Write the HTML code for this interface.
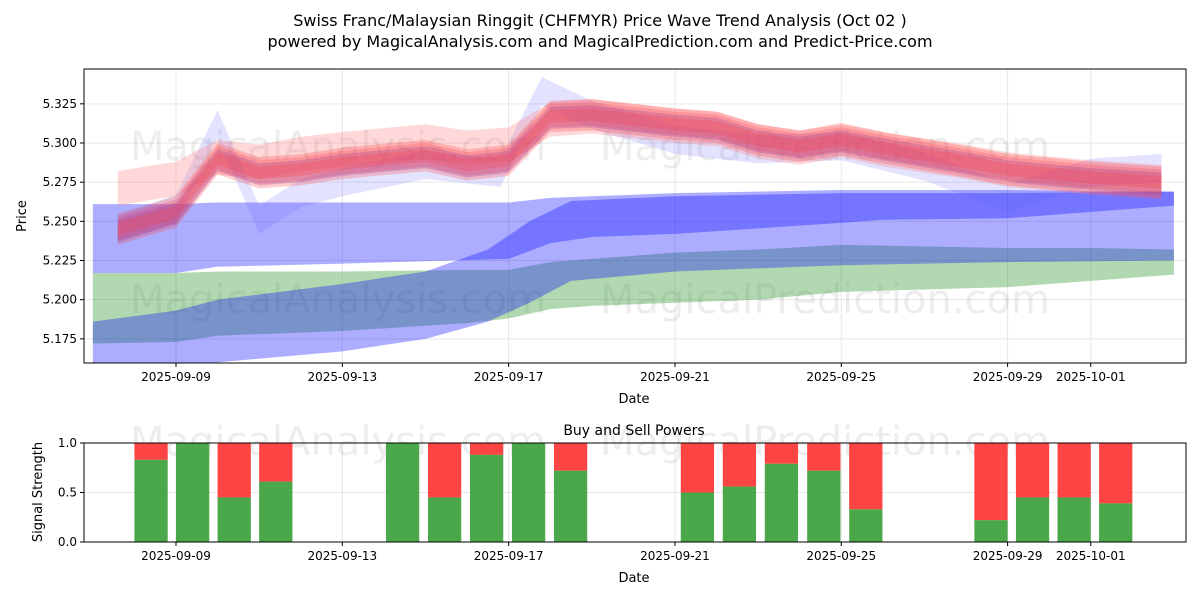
<!DOCTYPE html>
<html><head><meta charset="utf-8"><style>
body{margin:0;background:#fff;font-family:"Liberation Sans","DejaVu Sans",sans-serif}
svg text{font-family:"DejaVu Sans","Liberation Sans",sans-serif}
</style></head><body>
<svg id="c" width="1200" height="600" xmlns="http://www.w3.org/2000/svg">
<rect width="1200" height="600" fill="#fff"/>
<text x="600" y="26" text-anchor="middle" font-size="16">Swiss Franc/Malaysian Ringgit (CHFMYR) Price Wave Trend Analysis (Oct 02 )</text>
<text x="600" y="47" text-anchor="middle" font-size="16">powered by MagicalAnalysis.com and MagicalPrediction.com and Predict-Price.com</text>
<g id="topg"></g><g id="botg"></g>
</svg>
<script>
// dates as day-of-September (Oct 1 = 31)
const tickDays=[9,13,17,21,25,29,31];
const tickLabels=["2025-09-09","2025-09-13","2025-09-17","2025-09-21","2025-09-25","2025-09-29","2025-10-01"];
const yTicks=[5.175,5.2,5.225,5.25,5.275,5.3,5.325];
// band A (light blue)
const aDays=[7,9,10,13,17,18,19,21,25,26,29,33];
const aTop=[5.261,5.261,5.262,5.262,5.262,5.265,5.266,5.268,5.270,5.270,5.270,5.269];
const aBot=[5.217,5.217,5.221,5.223,5.226,5.236,5.240,5.242,5.249,5.251,5.252,5.260];
// band B (blue, lower)
const bDays=[7,9,10,13,15,16.5,17.5,18.5,21,25,29,33];
const bTop=[5.186,5.193,5.200,5.210,5.218,5.232,5.250,5.263,5.266,5.268,5.268,5.269];
const bBot=[5.158,5.156,5.160,5.167,5.175,5.186,5.198,5.212,5.218,5.222,5.224,5.225];
// band C (green)
const cDays=[7,9,10,13,16,17,18,19,21,23,25,29,31,33];
const cTop=[5.217,5.217,5.218,5.218,5.219,5.219,5.224,5.226,5.230,5.232,5.235,5.233,5.233,5.232];
const cBot=[5.172,5.173,5.177,5.180,5.185,5.188,5.194,5.196,5.198,5.200,5.205,5.208,5.212,5.216];
// red mean
const rDays=[7.6,8.5,9,10,11,12,13,15,16,17,18,19,21,22,23,24,25,26,28,29,31,32.7];
const rMid=[5.245,5.252,5.256,5.290,5.281,5.283,5.287,5.292,5.286,5.289,5.317,5.318,5.312,5.310,5.302,5.298,5.302,5.297,5.288,5.283,5.278,5.275];
const pMid=[5.270,5.274,5.276,5.290,5.287,5.292,5.295,5.300,5.296,5.298,5.314,5.316,5.310,5.308,5.300,5.296,5.301,5.295,5.287,5.282,5.277,5.274];
// light blue wave
const wDays=[7.6,9,10,11,12,13,15,16.8,17.8,19,21,23,25,27,29,31,32.7];
const wMid=[5.245,5.258,5.312,5.251,5.268,5.275,5.286,5.281,5.333,5.318,5.302,5.296,5.298,5.285,5.265,5.281,5.284];
// buy/sell
const barDays=[8,9,10,11,14.05,15.06,16.07,17.08,18.09,21.14,22.15,23.16,24.18,25.19,28.2,29.2,30.2,31.2];
const buyVals=[0.83,1.0,0.45,0.61,1.0,0.45,0.88,1.0,0.72,0.5,0.56,0.79,0.72,0.33,0.22,0.45,0.45,0.39];

const NS="http://www.w3.org/2000/svg";
const X=d=>176+(d-9)*41.58;
const Y=v=>143-(v-5.3)*1566.7;
const L=84,R=1186,T=69,B=363,BT=443,BB=542;
const YB=v=>BB-v*(BB-BT);
function mk(tag,at,parent){const e=document.createElementNS(NS,tag);for(const k in at)e.setAttribute(k,at[k]);parent.appendChild(e);return e;}
const topG=document.getElementById('topg'),botG=document.getElementById('botg');
const cp=mk('clipPath',{id:'cp'},topG);
mk('rect',{x:L,y:T,width:R-L,height:B-T},cp);
// grid
tickDays.forEach(d=>{mk('line',{x1:X(d),x2:X(d),y1:T,y2:B,stroke:'#e6e6e6'},topG);mk('line',{x1:X(d),x2:X(d),y1:BT,y2:BB,stroke:'#e6e6e6'},botG);});
yTicks.forEach(v=>mk('line',{x1:L,x2:R,y1:Y(v),y2:Y(v),stroke:'#e6e6e6'},topG));
[0,0.5,1].forEach(v=>mk('line',{x1:L,x2:R,y1:YB(v),y2:YB(v),stroke:'#e6e6e6'},botG));
// watermarks
[[130,160],[600,160],[130,313],[600,313]].forEach(p=>{const t=mk('text',{x:p[0],y:p[1],'font-size':40,fill:'#000','fill-opacity':0.07},topG);t.textContent=p[0]<300?'MagicalAnalysis.com':'MagicalPrediction.com';});
const g=mk('g',{'clip-path':'url(#cp)'},topG);
function band(days,tp,bt,fill,op,name){
  let d='M'+days.map((x,i)=>X(x)+','+Y(tp[i])).join('L');
  for(let i=days.length-1;i>=0;i--)d+='L'+X(days[i])+','+Y(bt[i]);
  const p=mk('path',{d:d+'Z',fill:fill,'fill-opacity':op},g);
  
  
}
band(aDays,aTop,aBot,'#0000ff',0.32,'band-blue-upper');
band(cDays,cTop,cBot,'#339933',0.38,'band-green');
band(bDays,bTop,bBot,'#0000ff',0.32,'band-blue-lower');
band(wDays,wMid.map(v=>v+0.009),wMid.map(v=>v-0.009),'#6666ff',0.18,'band-wave-light-blue');
band(rDays,pMid.map(v=>v+0.012),pMid.map(v=>v-0.010),'#ff6666',0.25,'band-red-wide');
[[-0.008,0.006,'#7744bb',0.3],[-0.010,0.004,'#ff4444',0.28],[-0.004,0.010,'#ff4444',0.28],[-0.007,0.008,'#ee3355',0.22]].forEach((o,k)=>{
  band(rDays,rMid.map(v=>v+o[1]),rMid.map(v=>v+o[0]),o[2],o[3],'band-red-'+k);
});
mk('rect',{x:L,y:T,width:R-L,height:B-T,fill:'none',stroke:'#000'},topG);
// ticks
yTicks.forEach(v=>{mk('line',{x1:L-4,x2:L,y1:Y(v),y2:Y(v),stroke:'#000'},topG);const t=mk('text',{x:L-7,y:Y(v)+4,'text-anchor':'end','font-size':12},topG);t.textContent=v.toFixed(3);});
tickDays.forEach((d,i)=>{mk('line',{x1:X(d),x2:X(d),y1:B,y2:B+4,stroke:'#000'},topG);const t=mk('text',{x:X(d),y:B+18,'text-anchor':'middle','font-size':12},topG);t.textContent=tickLabels[i];
 mk('line',{x1:X(d),x2:X(d),y1:BB,y2:BB+4,stroke:'#000'},botG);const u=mk('text',{x:X(d),y:BB+18,'text-anchor':'middle','font-size':12},botG);u.textContent=tickLabels[i];});
let t=mk('text',{x:634,y:403,'text-anchor':'middle','font-size':13},topG);t.textContent='Date';
t=mk('text',{x:26,y:216,'text-anchor':'middle','font-size':13,transform:'rotate(-90 26 216)'},topG);t.textContent='Price';
// bottom
[[130,455],[600,455]].forEach(p=>{const w=mk('text',{x:p[0],y:p[1],'font-size':40,fill:'#000','fill-opacity':0.07},botG);w.textContent=p[0]<300?'MagicalAnalysis.com':'MagicalPrediction.com';});
barDays.forEach((d,i)=>{const x=X(d),w=0.8*41.58;
 const s=mk('rect',{x:x,y:YB(1),width:w,height:YB(buyVals[i])-YB(1),fill:'#ff4444'},botG);
 
 
 const b=mk('rect',{x:x,y:YB(buyVals[i]),width:w,height:BB-YB(buyVals[i]),fill:'#4aa84a'},botG);
 
 });
mk('rect',{x:L,y:BT,width:R-L,height:BB-BT,fill:'none',stroke:'#000'},botG);
[0,0.5,1].forEach(v=>{mk('line',{x1:L-4,x2:L,y1:YB(v),y2:YB(v),stroke:'#000'},botG);const u=mk('text',{x:L-7,y:YB(v)+4,'text-anchor':'end','font-size':12},botG);u.textContent=v.toFixed(1);});
t=mk('text',{x:634,y:435,'text-anchor':'middle','font-size':14},botG);t.textContent='Buy and Sell Powers';
t=mk('text',{x:634,y:582,'text-anchor':'middle','font-size':13},botG);t.textContent='Date';
t=mk('text',{x:42,y:492,'text-anchor':'middle','font-size':13,transform:'rotate(-90 42 492)'},botG);t.textContent='Signal Strength';
</script>
</body></html>
